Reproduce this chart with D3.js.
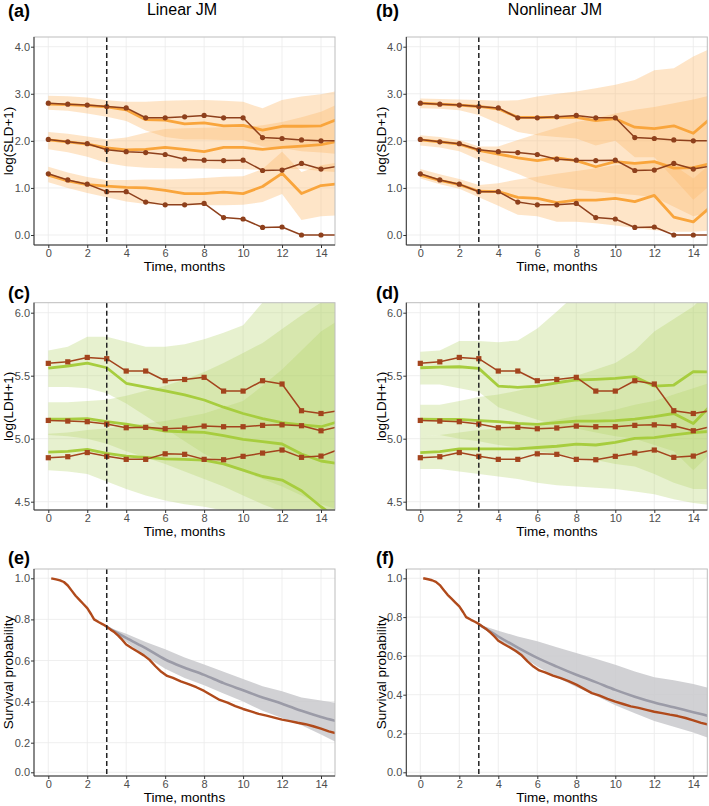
<!DOCTYPE html>
<html><head><meta charset="utf-8">
<script src="https://cdn.jsdelivr.net/npm/d3@7"></script>
<style>body{margin:0;background:#fff}svg text{font-family:"Liberation Sans",Arial,Helvetica,sans-serif}</style>
</head><body><svg id="c" width="709" height="806"></svg>
<script>
// ---------------- DATA ----------------
const months = d3.range(0, 16);          // 0..15 (15 lies beyond the visible window)
const xTicks = [0, 2, 4, 6, 8, 10, 12, 14];
const sldTicks = [0, 1, 2, 3, 4];
const ldhTicks = [4.5, 5.0, 5.5, 6.0];
const survTicks = [0, 0.2, 0.4, 0.6, 0.8, 1.0];
const landmark = 3;

// observed log(SLD+1), three patient groups
const sldObsHigh = [2.80,2.78,2.76,2.73,2.70,2.49,2.49,2.51,2.54,2.49,2.49,2.07,2.05,2.02,2.00,2.00];
const sldObsMid  = [2.03,1.98,1.94,1.81,1.77,1.75,1.71,1.61,1.59,1.58,1.59,1.37,1.38,1.52,1.40,1.47];
const sldObsLow  = [1.30,1.17,1.08,0.92,0.92,0.70,0.64,0.64,0.67,0.37,0.34,0.16,0.17,0.00,0.00,0.00];

// linear JM predictions (SLD)
const sldLinHigh = [2.78,2.77,2.75,2.72,2.66,2.45,2.44,2.36,2.38,2.32,2.33,2.23,2.31,2.31,2.32,2.48];
const sldLinMid  = [2.02,1.98,1.93,1.85,1.81,1.82,1.86,1.82,1.77,1.86,1.86,1.82,1.86,1.89,1.92,2.00];
const sldLinLow  = [1.27,1.15,1.07,1.04,1.01,1.00,0.95,0.88,0.88,0.91,0.88,1.03,1.31,0.88,1.05,1.09];
const sldLinHighUp = [2.96,2.95,2.92,2.86,2.83,2.83,2.85,2.86,2.87,2.85,2.83,2.69,2.87,2.94,2.99,3.07];
const sldLinHighLo = [2.66,2.64,2.58,2.51,2.42,2.22,2.08,2.03,2.03,2.02,2.02,1.88,1.85,1.78,1.75,1.72];
const sldLinMidUp  = [2.19,2.15,2.09,2.03,2.07,2.17,2.25,2.27,2.28,2.29,2.29,2.33,2.40,2.50,2.62,2.80];
const sldLinMidLo  = [1.82,1.76,1.66,1.53,1.46,1.43,1.42,1.41,1.41,1.40,1.40,1.38,1.40,1.40,1.36,1.33];
const sldLinLowUp  = [1.45,1.33,1.23,1.17,1.17,1.18,1.18,1.19,1.21,1.24,1.25,1.40,1.77,1.34,1.48,1.55];
const sldLinLowLo  = [1.12,1.00,0.89,0.80,0.71,0.66,0.64,0.63,0.63,0.63,0.64,0.70,0.87,0.32,0.40,0.42];

// nonlinear JM predictions (SLD)
const sldNlHigh = [2.80,2.78,2.76,2.73,2.68,2.50,2.50,2.50,2.50,2.43,2.47,2.29,2.26,2.32,2.16,2.52];
const sldNlMid  = [2.02,1.98,1.93,1.80,1.72,1.64,1.58,1.64,1.58,1.45,1.56,1.52,1.56,1.42,1.43,1.53];
const sldNlLow  = [1.27,1.16,1.07,0.93,0.92,0.80,0.78,0.69,0.74,0.74,0.78,0.71,0.84,0.38,0.28,0.64];
const sldNlHighUp = [2.90,2.89,2.88,2.87,2.85,2.86,2.94,3.00,3.05,3.12,3.19,3.29,3.50,3.54,3.79,3.98];
const sldNlHighLo = [2.69,2.68,2.65,2.55,2.37,2.19,2.12,2.08,2.05,1.90,2.00,1.65,1.65,1.20,0.75,1.10];
const sldNlMidUp  = [2.12,2.08,2.02,1.88,1.88,2.02,2.15,2.28,2.40,2.48,2.58,2.66,2.72,2.80,2.88,2.98];
const sldNlMidLo  = [1.90,1.86,1.78,1.60,1.45,1.30,1.12,1.02,0.96,0.92,0.88,0.85,0.80,0.60,0.40,0.50];
const sldNlLowUp  = [1.40,1.29,1.19,1.06,1.10,1.18,1.24,1.30,1.36,1.42,1.48,1.52,1.56,1.48,1.20,1.55];
const sldNlLowLo  = [1.20,1.08,0.98,0.80,0.62,0.43,0.40,0.28,0.28,0.25,0.20,0.15,0.10,0.07,0.07,0.10];

// observed log(LDH+1)
const ldhObsHigh = [5.598,5.610,5.645,5.635,5.537,5.537,5.460,5.470,5.487,5.378,5.378,5.460,5.434,5.222,5.200,5.225];
const ldhObsMid  = [5.145,5.140,5.135,5.116,5.087,5.090,5.079,5.085,5.100,5.095,5.095,5.106,5.110,5.103,5.063,5.100];
const ldhObsLow  = [4.849,4.857,4.890,4.860,4.836,4.836,4.880,4.876,4.836,4.833,4.860,4.886,4.910,4.852,4.862,4.920];

// linear JM predictions (LDH)
const ldhLinHigh = [5.560,5.577,5.600,5.563,5.440,5.410,5.380,5.347,5.307,5.250,5.200,5.160,5.127,5.110,5.095,5.140];
const ldhLinMid  = [5.156,5.156,5.160,5.135,5.116,5.090,5.060,5.055,5.050,5.024,4.995,4.976,4.958,4.879,4.823,4.800];
const ldhLinLow  = [4.894,4.900,4.915,4.884,4.862,4.852,4.840,4.836,4.830,4.800,4.750,4.700,4.672,4.587,4.460,4.350];
const ldhLinHighUp = [5.70,5.73,5.81,5.81,5.77,5.73,5.73,5.75,5.79,5.84,5.90,6.08,6.25,6.40,6.50,6.60];
const ldhLinHighLo = [5.41,5.41,5.40,5.36,5.28,5.18,5.08,4.98,4.88,4.80,4.74,4.68,4.62,4.55,4.48,4.43];
const ldhLinMidUp  = [5.29,5.29,5.30,5.31,5.34,5.38,5.42,5.47,5.53,5.60,5.68,5.76,5.87,5.98,6.08,6.15];
const ldhLinMidLo  = [5.03,5.02,5.00,4.96,4.90,4.85,4.80,4.74,4.68,4.62,4.55,4.48,4.42,4.34,4.25,4.20];
const ldhLinLowUp  = [5.04,5.05,5.07,5.08,5.10,5.12,5.14,5.17,5.20,5.25,5.30,5.42,5.55,5.70,5.85,5.95];
const ldhLinLowLo  = [4.75,4.74,4.72,4.66,4.60,4.55,4.51,4.48,4.46,4.43,4.40,4.35,4.30,4.20,4.10,4.00];

// nonlinear JM predictions (LDH)
const ldhNlHigh = [5.563,5.568,5.571,5.558,5.418,5.407,5.418,5.444,5.466,5.471,5.479,5.492,5.418,5.426,5.532,5.530];
const ldhNlMid  = [5.156,5.153,5.153,5.143,5.135,5.122,5.114,5.128,5.140,5.140,5.143,5.156,5.175,5.200,5.120,5.280];
const ldhNlLow  = [4.890,4.897,4.920,4.920,4.920,4.920,4.930,4.940,4.957,4.950,4.970,5.003,5.008,5.030,5.048,5.060];
const ldhNlHighUp = [5.69,5.70,5.775,5.775,5.765,5.78,5.875,6.01,6.15,6.30,6.40,6.50,6.60,6.70,6.80,6.90];
const ldhNlHighLo = [5.43,5.43,5.40,5.37,5.25,5.20,5.15,5.10,5.08,5.05,5.02,5.00,4.95,4.90,4.75,4.90];
const ldhNlMidUp  = [5.27,5.27,5.30,5.33,5.35,5.38,5.42,5.45,5.50,5.55,5.60,5.70,5.85,5.95,6.05,6.20];
const ldhNlMidLo  = [5.02,5.03,5.00,4.98,4.95,4.93,4.90,4.88,4.85,4.83,4.80,4.78,4.72,4.65,4.60,4.60];
const ldhNlLowUp  = [5.02,5.03,5.05,5.07,5.08,5.10,5.12,5.15,5.18,5.20,5.23,5.27,5.30,5.35,5.40,5.45];
const ldhNlLowLo  = [4.76,4.76,4.74,4.72,4.70,4.68,4.65,4.63,4.62,4.61,4.60,4.58,4.56,4.52,4.49,4.47];

// Kaplan-Meier (observed survival)
const kmTime = [0.15,0.4,0.6,0.8,1.0,1.2,1.4,1.6,1.8,2.0,2.2,2.35,2.6,2.8,3.0,3.2,3.4,3.6,3.8,4.0,4.3,4.6,4.9,5.2,5.5,5.8,6.1,6.4,6.8,7.2,7.6,8.0,8.4,8.8,9.2,9.6,10.0,10.4,10.8,11.2,11.6,12.0,12.4,12.8,13.2,13.6,14.0,14.4,14.8];
const kmSurv = [1.0,0.995,0.99,0.982,0.965,0.94,0.915,0.895,0.875,0.855,0.825,0.80,0.786,0.776,0.765,0.75,0.737,0.72,0.70,0.678,0.66,0.643,0.625,0.603,0.572,0.545,0.525,0.515,0.498,0.485,0.47,0.452,0.43,0.408,0.395,0.378,0.364,0.352,0.34,0.332,0.322,0.312,0.305,0.297,0.29,0.28,0.268,0.255,0.245];

// predicted survival from landmark
const predMonths = d3.range(3, 16);
const survLinPred = [0.764,0.71,0.66,0.605,0.565,0.53,0.49,0.455,0.42,0.39,0.355,0.325,0.30];
const survLinUp   = [0.764,0.73,0.69,0.655,0.615,0.58,0.545,0.51,0.475,0.45,0.42,0.405,0.39];
const survLinLo   = [0.764,0.69,0.62,0.56,0.515,0.48,0.44,0.40,0.355,0.32,0.285,0.24,0.19];
const survNlPred  = [0.762,0.70,0.643,0.59,0.545,0.503,0.465,0.425,0.39,0.36,0.335,0.31,0.285];
const survNlUp    = [0.762,0.73,0.70,0.675,0.645,0.615,0.585,0.555,0.52,0.49,0.475,0.455,0.43];
const survNlLo    = [0.762,0.68,0.61,0.545,0.49,0.44,0.395,0.345,0.305,0.265,0.235,0.205,0.17];

// ---------------- LAYOUT / STYLE ----------------
const svg = d3.select("#c");
const cols = [{x0:34, x1:335, a:48.3, b:321}, {x0:406.3, x1:707.3, a:420.3, b:693.3}];
const rows = [{y0:37, y1:245}, {y0:302.7, y1:510}, {y0:569, y1:776}];
const C = {
  orangeBand:"#fdbb6e", orangeLine:"#f9a53c", sldObs:"#8e401c",
  greenBand:"#b5d46a", greenLine:"#a7cd3e", ldhObs:"#a3441d",
  grayBand:"#c9c9cc", grayLine:"#9b9ba7", km:"#b04a1b"
};

let clipId = 0;
function panel(ci, ri, y, yTicks) {
  const col = cols[ci], row = rows[ri];
  const x = d3.scaleLinear().domain([0, 14]).range([col.a, col.b]);
  const g = svg.append("g");
  const id = "clip" + (clipId++);
  svg.append("clipPath").attr("id", id).append("rect")
    .attr("x", col.x0).attr("y", row.y0).attr("width", col.x1 - col.x0).attr("height", row.y1 - row.y0);
  const grid = g.append("g");
  grid.selectAll(".gx").data(xTicks).join("line")
    .attr("x1", d => x(d)).attr("x2", d => x(d)).attr("y1", row.y0).attr("y2", row.y1)
    .attr("stroke", "#ebebeb").attr("stroke-width", 0.8);
  grid.selectAll(".gy").data(yTicks).join("line")
    .attr("x1", col.x0).attr("x2", col.x1).attr("y1", d => y(d)).attr("y2", d => y(d))
    .attr("stroke", "#ebebeb").attr("stroke-width", 0.8);
  const plot = g.append("g").attr("clip-path", `url(#${id})`);
  const frame = g.append("g");
  frame.append("rect").attr("x", col.x0).attr("y", row.y0).attr("width", col.x1 - col.x0)
    .attr("height", row.y1 - row.y0).attr("fill", "none").attr("stroke", "#bdbdbd").attr("stroke-width", 1);
  const ax = frame.append("g").attr("transform", `translate(0,${row.y1})`)
    .call(d3.axisBottom(x).tickValues(xTicks).tickFormat(d3.format("d")).tickSize(3).tickPadding(1));
  const ay = frame.append("g").attr("transform", `translate(${col.x0},0)`)
    .call(d3.axisLeft(y).tickValues(yTicks).tickFormat(d3.format(".1f")).tickSize(3).tickPadding(1));
  [ax, ay].forEach(a => {
    a.select(".domain").remove();
    a.selectAll(".tick line").attr("stroke", "#333");
    a.selectAll(".tick text").attr("fill", "#4d4d4d").style("font-size", "11px");
  });
  frame.append("line").attr("x1", col.x0).attr("x2", col.x1).attr("y1", row.y1).attr("y2", row.y1).attr("stroke", "#333");
  frame.append("line").attr("x1", col.x0).attr("x2", col.x0).attr("y1", row.y0).attr("y2", row.y1).attr("stroke", "#333");
  return {x, y, plot, col, row};
}

function band(p, lo, hi, ts, color, op) {
  const d = ts.map((t, i) => ({t, lo: lo[i], hi: hi[i]}));
  p.plot.append("path").datum(d)
    .attr("d", d3.area().x(v => p.x(v.t)).y0(v => p.y(v.lo)).y1(v => p.y(v.hi)))
    .attr("fill", color).attr("fill-opacity", op);
}
function line(p, vals, ts, color, w, curve) {
  const d = ts.map((t, i) => ({t, v: vals[i]}));
  p.plot.append("path").datum(d)
    .attr("d", d3.line().x(v => p.x(v.t)).y(v => p.y(v.v)).curve(curve || d3.curveLinear))
    .attr("fill", "none").attr("stroke", color).attr("stroke-width", w).attr("stroke-linejoin", "round");
}
function dots(p, vals, color, shape) {
  const d = months.map((t, i) => ({t, v: vals[i]}));
  if (shape === "circle") {
    p.plot.append("g").selectAll("circle").data(d).join("circle")
      .attr("cx", v => p.x(v.t)).attr("cy", v => p.y(v.v)).attr("r", 2.6).attr("fill", color);
  } else {
    p.plot.append("g").selectAll("rect").data(d).join("rect")
      .attr("x", v => p.x(v.t) - 2.6).attr("y", v => p.y(v.v) - 2.6).attr("width", 5.2).attr("height", 5.2).attr("fill", color);
  }
}
function vline(p) {
  p.plot.append("line").attr("x1", p.x(landmark)).attr("x2", p.x(landmark))
    .attr("y1", p.row.y0).attr("y2", p.row.y1)
    .attr("stroke", "#222").attr("stroke-width", 1.5).attr("stroke-dasharray", "5,3");
}

// ---------------- SLD panels ----------------
const ySLD = d3.scaleLinear().domain([0, 4]).range([235, 46.7]);
function sldPanel(ci, pred, bands) {
  const p = panel(ci, 0, ySLD, sldTicks);
  bands.forEach(b => band(p, b[0], b[1], months, C.orangeBand, 0.38));
  pred.forEach(v => line(p, v, months, C.orangeLine, 2.8));
  [sldObsHigh, sldObsMid, sldObsLow].forEach(v => { line(p, v, months, C.sldObs, 1.5); dots(p, v, C.sldObs, "circle"); });
  vline(p);
  return p;
}
sldPanel(0, [sldLinHigh, sldLinMid, sldLinLow],
  [[sldLinHighLo, sldLinHighUp], [sldLinMidLo, sldLinMidUp], [sldLinLowLo, sldLinLowUp]]);
sldPanel(1, [sldNlHigh, sldNlMid, sldNlLow],
  [[sldNlHighLo, sldNlHighUp], [sldNlMidLo, sldNlMidUp], [sldNlLowLo, sldNlLowUp]]);

// ---------------- LDH panels ----------------
const yLDH = d3.scaleLinear().domain([4.5, 6.0]).range([501.7, 312.7]);
function ldhPanel(ci, pred, bands) {
  const p = panel(ci, 1, yLDH, ldhTicks);
  bands.forEach(b => band(p, b[0], b[1], months, C.greenBand, 0.32));
  pred.forEach(v => line(p, v, months, C.greenLine, 2.8));
  [ldhObsHigh, ldhObsMid, ldhObsLow].forEach(v => { line(p, v, months, C.ldhObs, 1.5); dots(p, v, C.ldhObs, "square"); });
  vline(p);
  return p;
}
ldhPanel(0, [ldhLinHigh, ldhLinMid, ldhLinLow],
  [[ldhLinHighLo, ldhLinHighUp], [ldhLinMidLo, ldhLinMidUp], [ldhLinLowLo, ldhLinLowUp]]);
ldhPanel(1, [ldhNlHigh, ldhNlMid, ldhNlLow],
  [[ldhNlHighLo, ldhNlHighUp], [ldhNlMidLo, ldhNlMidUp], [ldhNlLowLo, ldhNlLowUp]]);

// ---------------- Survival panels ----------------
const ySurvE = d3.scaleLinear().domain([0, 0.2, 1.0]).range([772.3, 742.7, 578.3]);
const ySurvF = d3.scaleLinear().domain([0, 1.0]).range([772.3, 578.3]);
function survPanel(ci, y, pr, up, lo) {
  const p = panel(ci, 2, y, survTicks);
  band(p, lo, up, predMonths, C.grayBand, 0.85);
  line(p, pr, predMonths, C.grayLine, 2.6, d3.curveMonotoneX);
  const d = kmTime.map((t, i) => ({t, v: kmSurv[i]}));
  p.plot.append("path").datum(d)
    .attr("d", d3.line().x(v => p.x(v.t)).y(v => p.y(v.v)).curve(d3.curveLinear))
    .attr("fill", "none").attr("stroke", C.km).attr("stroke-width", 2.4).attr("stroke-linejoin", "round");
  vline(p);
  return p;
}
survPanel(0, ySurvE, survLinPred, survLinUp, survLinLo);
survPanel(1, ySurvF, survNlPred, survNlUp, survNlLo);

// ---------------- Text ----------------
const T = (x, y, s, size, opts = {}) => {
  const t = svg.append("text").attr("x", x).attr("y", y).text(s).style("font-size", size + "px")
    .attr("fill", opts.fill || "#000").attr("text-anchor", opts.anchor || "start");
  if (opts.bold) t.style("font-weight", "bold");
  if (opts.rot) t.attr("transform", `rotate(-90,${x},${y})`);
  return t;
};
T(182, 15, "Linear JM", 16, {anchor: "middle"});
T(555, 15, "Nonlinear JM", 16, {anchor: "middle"});
[["(a)", 8, 17], ["(b)", 376, 17], ["(c)", 8, 299], ["(d)", 376, 299], ["(e)", 8, 564], ["(f)", 376, 564]]
  .forEach(([s, x, y]) => T(x, y, s, 18, {bold: true}));
const yTitles = ["log(SLD+1)", "log(LDH+1)", "Survival probability"];
rows.forEach((r, ri) => {
  cols.forEach((c, ci) => {
    T((c.x0 + c.x1) / 2, r.y1 + 26, "Time, months", 13.5, {anchor: "middle"});
    T(ci === 0 ? 13 : 386, (r.y0 + r.y1) / 2, yTitles[ri], 13.5, {anchor: "middle", rot: true});
  });
});
</script></body></html>
